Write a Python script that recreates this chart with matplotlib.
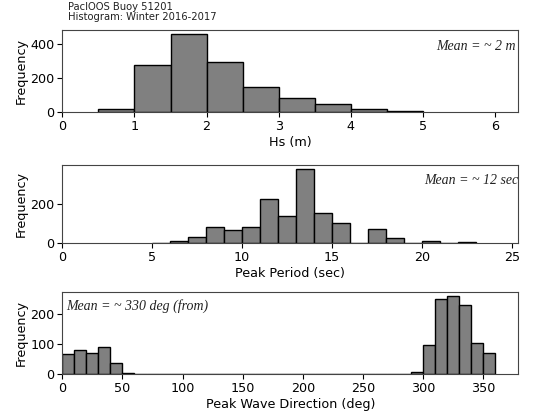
import numpy as np
import matplotlib
matplotlib.use("Agg")
import matplotlib.pyplot as plt

# Significant wave height, 0.5 m bins
hs_edges = [0.5, 1.0, 1.5, 2.0, 2.5, 3.0, 3.5, 4.0, 4.5, 5.0]
hs_counts = [22, 278, 459, 296, 147, 82, 47, 22, 10]

# Peak period, 1 s bins
tp_edges = list(range(5, 24))
tp_counts = [3, 13, 30, 80, 66, 80, 222, 139, 376, 155, 101, 0, 72, 27, 0, 13, 0, 5]

# Peak wave direction, 10 deg bins
dir_edges = list(range(0, 370, 10))
dir_counts = [68, 79, 71, 90, 36, 3, 0, 0, 0, 0, 0, 0, 0, 0, 0, 0, 0, 0,
              0, 0, 0, 0, 0, 0, 0, 0, 0, 0, 0, 7, 97, 250, 259, 231, 104, 70]

fig = plt.figure(figsize=(5.35, 4.19), dpi=100)
W, H = 535, 419

def add_ax(top, bottom):
    return fig.add_axes([62.3 / W, 1 - bottom / H, (518.3 - 62.3) / W, (bottom - top) / H])

panels = [
    (add_ax(30.5, 112.3), hs_edges, hs_counts, "Hs (m)", (0, 6.32), range(0, 7)),
    (add_ax(165, 243.3), tp_edges, tp_counts, "Peak Period (sec)", (0, 25.36), range(0, 26, 5)),
    (add_ax(292.3, 374.3), dir_edges, dir_counts, "Peak Wave Direction (deg)", (0, 379), range(0, 351, 50)),
]

for ax, edges, counts, xlabel, xlim, xticks in panels:
    edges = np.array(edges, dtype=float)
    ax.bar(edges[:-1], counts, width=np.diff(edges), align="edge",
           color="gray", edgecolor="black", linewidth=1.0)
    ax.set_xlim(*xlim)
    ax.set_xticks(list(xticks))
    ax.set_xlabel(xlabel, fontsize=9.2, labelpad=2)
    ax.set_ylabel("Frequency", fontsize=9.2, labelpad=2)
    ax.tick_params(labelsize=9.2, length=3.5, pad=2)
    for s in ax.spines.values():
        s.set_color("#444444")

panels[0][0].set_yticks([0, 200, 400])
panels[1][0].set_yticks([0, 200])
panels[2][0].set_yticks([0, 100, 200])

mean_font = dict(family="Liberation Serif", style="italic", fontsize=10, color="#222222")
panels[0][0].text(0.995, 0.80, "Mean = ~ 2 m", transform=panels[0][0].transAxes,
                  ha="right", va="center", **mean_font)
panels[1][0].text(1.0, 0.80, "Mean = ~ 12 sec", transform=panels[1][0].transAxes,
                  ha="right", va="center", clip_on=True, **mean_font)
panels[2][0].text(0.008, 0.83, "Mean = ~ 330 deg (from)", transform=panels[2][0].transAxes,
                  ha="left", va="center", **mean_font)

fig.text(68 / W, 1 - 2 / H, "PacIOOS Buoy 51201\nHistogram: Winter 2016-2017",
         ha="left", va="top", fontsize=7.2, linespacing=1.0, color="#222222")

fig.savefig("out.png", dpi=100)
